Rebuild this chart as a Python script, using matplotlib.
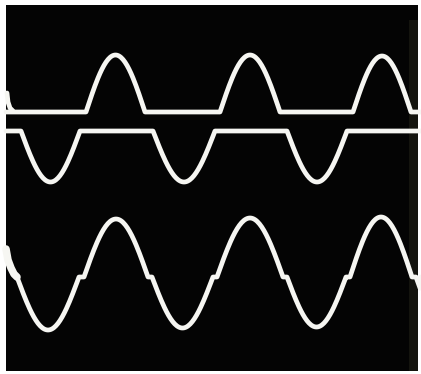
import numpy as np
import matplotlib
matplotlib.use("Agg")
import matplotlib.pyplot as plt
from matplotlib.patches import Rectangle

# ---- values (x: time, y: screen level; pixel-like units) ----
# Top trace: positive half-wave pulses on a flat baseline
top_base = 112
top_start = [86, 220, 353]
top_end = [145, 280, 411]
top_peak = [55, 55, 56]

# Middle trace: negative half-wave pulses below a flat baseline
mid_base = 131
mid_start = [21, 153, 287]
mid_end = [80, 215, 347]
mid_peak = [182, 182, 182]

# Bottom trace: sum of both, full wave with notches near the crossings
bot_base = 277
bot_start = [17, 84, 152, 217, 287, 350, 416]
bot_end = [79, 148, 213, 283, 346, 412, 476]
bot_peak = [330, 219, 328, 218, 327, 217, 330]

# start-of-sweep artefacts at the left edge
top_spike_x = [7, 8, 10, 13]
top_spike_y = [93, 102, 108, 111]
bot_blob_x = [6, 8, 11, 14, 17]
bot_blob_y = [249, 260, 268, 274, 277]

X0, X1 = 6, 421


def trace(base, starts, ends, peaks, x0=X0, x1=X1):
    xs, ys = [x0], [base]
    for s, e, p in zip(starts, ends, peaks):
        t = np.linspace(0, 1, 60)
        xs.extend(list(s + (e - s) * t))
        ys.extend(list(base + (p - base) * np.sin(np.pi * t)))
    xs.append(x1)
    ys.append(base)
    xs = np.array(xs)
    ys = np.array(ys)
    m = xs <= x1 + 0.01
    return xs[m], ys[m]


W, H = 421, 374
fig = plt.figure(figsize=(W / 100, H / 100), dpi=100)
ax = fig.add_axes([0, 0, 1, 1])
ax.set_xlim(0, W)
ax.set_ylim(H, 0)
ax.axis("off")
fig.patch.set_facecolor("white")

# screen
ax.add_patch(Rectangle((6, 5), 412, 366, facecolor="#040404", edgecolor="none", zorder=0))
ax.add_patch(Rectangle((409, 20), 9, 351, facecolor="#14140e", edgecolor="none", zorder=0))

line_col = "#f6f6f2"
lw = 3.4

x, y = trace(top_base, top_start, top_end, top_peak)
ax.plot(x, y, color=line_col, lw=lw, solid_capstyle="round", solid_joinstyle="round", zorder=2)
ax.plot(top_spike_x, top_spike_y, color=line_col, lw=lw, solid_capstyle="round", zorder=2)

x, y = trace(mid_base, mid_start, mid_end, mid_peak)
ax.plot(x, y, color=line_col, lw=lw, solid_capstyle="round", solid_joinstyle="round", zorder=2)

x, y = trace(bot_base, bot_start, bot_end, bot_peak, x0=17)
ax.plot(x, y, color=line_col, lw=lw, solid_capstyle="round", solid_joinstyle="round", zorder=2)
ax.plot(bot_blob_x, bot_blob_y, color=line_col, lw=lw * 1.6, solid_capstyle="round", zorder=2)

fig.savefig("out.png", dpi=100, facecolor="white")
